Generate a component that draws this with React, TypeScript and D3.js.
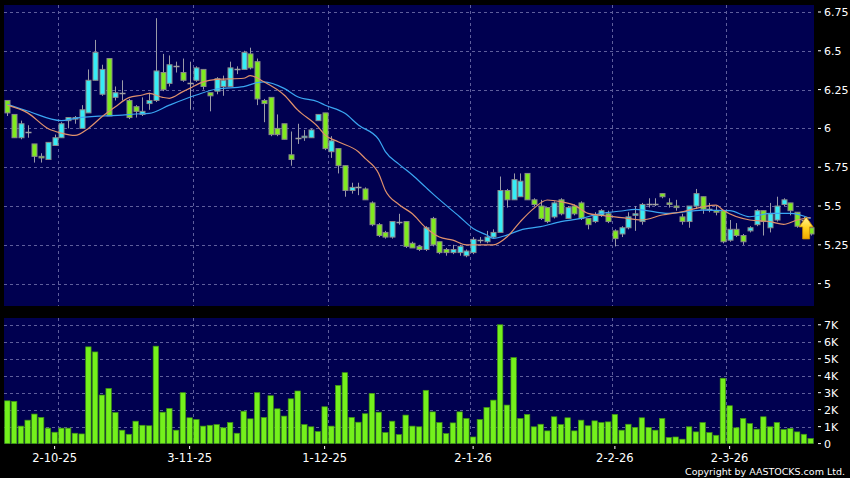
import React from 'react';
import * as d3 from 'd3';

const W = 850;
const H = 478;

// ---- Candles (index 0..119) ----
const opens = [
  6.18, 6.09, 5.94, 5.98, 5.90, 5.82, 5.80, 5.89, 5.94, 6.05,
  6.06, 6.00, 6.10, 6.31, 6.22, 6.45, 6.20, 6.23, 6.18, 6.14,
  6.09, 6.16, 6.18, 6.36, 6.29, 6.40, 6.36, 6.29, 6.31, 6.38,
  6.23, 6.24, 6.27, 6.27, 6.38, 6.38, 6.48, 6.43, 6.18, 6.20,
  6.00, 6.03, 5.83, 5.94, 5.94, 5.94, 6.05, 6.10, 5.85, 5.87,
  5.76, 5.60, 5.62, 5.61, 5.52, 5.38, 5.33, 5.30, 5.40, 5.40,
  5.26, 5.24, 5.22, 5.42, 5.27, 5.22, 5.20, 5.20, 5.18, 5.20,
  5.28, 5.27, 5.30, 5.33, 5.60, 5.54, 5.56, 5.71, 5.54, 5.50,
  5.49, 5.43, 5.54, 5.42, 5.50, 5.52, 5.42, 5.40, 5.44, 5.45,
  5.34, 5.32, 5.36, 5.44, 5.40, 5.51, 5.51, 5.58, 5.52, 5.50,
  5.43, 5.40, 5.50, 5.56, 5.48, 5.47, 5.47, 5.28, 5.35, 5.31,
  5.34, 5.38, 5.47, 5.36, 5.41, 5.51, 5.52, 5.46, 5.41, 5.36,
];
const highs = [
  6.18, 6.09, 6.05, 6.02, 5.90, 5.84, 5.91, 5.96, 6.04, 6.07,
  6.08, 6.15, 6.38, 6.57, 6.41, 6.45, 6.27, 6.31, 6.19, 6.15,
  6.20, 6.23, 6.71, 6.48, 6.47, 6.43, 6.45, 6.43, 6.40, 6.38,
  6.23, 6.33, 6.34, 6.43, 6.40, 6.50, 6.52, 6.45, 6.19, 6.20,
  6.09, 6.03, 5.98, 6.03, 5.99, 6.00, 6.09, 6.10, 5.95, 5.87,
  5.76, 5.65, 5.65, 5.62, 5.53, 5.39, 5.34, 5.40, 5.45, 5.40,
  5.27, 5.25, 5.37, 5.43, 5.27, 5.23, 5.25, 5.25, 5.22, 5.30,
  5.30, 5.34, 5.35, 5.69, 5.61, 5.71, 5.71, 5.71, 5.55, 5.54,
  5.49, 5.53, 5.55, 5.50, 5.51, 5.53, 5.42, 5.46, 5.48, 5.47,
  5.35, 5.37, 5.46, 5.50, 5.52, 5.55, 5.55, 5.58, 5.55, 5.54,
  5.45, 5.50, 5.61, 5.56, 5.52, 5.50, 5.47, 5.41, 5.39, 5.32,
  5.37, 5.48, 5.47, 5.52, 5.56, 5.55, 5.52, 5.46, 5.43, 5.36,
];
const lows = [
  6.08, 5.94, 5.93, 5.94, 5.78, 5.78, 5.80, 5.89, 5.94, 6.00,
  6.03, 6.00, 6.10, 6.31, 6.21, 6.08, 6.18, 6.18, 6.06, 6.07,
  6.08, 6.12, 6.17, 6.24, 6.27, 6.36, 6.30, 6.12, 6.30, 6.25,
  6.11, 6.22, 6.21, 6.27, 6.35, 6.38, 6.38, 6.15, 6.04, 5.95,
  5.95, 5.93, 5.76, 5.90, 5.92, 5.94, 6.05, 5.86, 5.81, 5.71,
  5.56, 5.58, 5.57, 5.54, 5.37, 5.30, 5.29, 5.29, 5.38, 5.23,
  5.23, 5.21, 5.21, 5.24, 5.19, 5.18, 5.19, 5.18, 5.17, 5.19,
  5.26, 5.26, 5.29, 5.33, 5.49, 5.54, 5.56, 5.54, 5.50, 5.41,
  5.39, 5.42, 5.44, 5.42, 5.44, 5.41, 5.35, 5.39, 5.43, 5.39,
  5.24, 5.30, 5.35, 5.34, 5.38, 5.49, 5.50, 5.55, 5.49, 5.47,
  5.38, 5.36, 5.48, 5.45, 5.46, 5.44, 5.26, 5.27, 5.30, 5.25,
  5.33, 5.37, 5.31, 5.33, 5.40, 5.50, 5.44, 5.36, 5.36, 5.31,
];
const closes = [
  6.10, 5.94, 6.03, 5.98, 5.82, 5.81, 5.91, 5.94, 6.03, 6.07,
  6.07, 6.12, 6.31, 6.49, 6.38, 6.08, 6.23, 6.23, 6.07, 6.11,
  6.11, 6.18, 6.37, 6.25, 6.41, 6.40, 6.31, 6.29, 6.39, 6.27,
  6.21, 6.32, 6.31, 6.39, 6.38, 6.49, 6.39, 6.19, 6.16, 5.96,
  5.96, 5.93, 5.80, 5.94, 5.95, 5.99, 6.09, 5.87, 5.92, 5.76,
  5.60, 5.62, 5.62, 5.54, 5.38, 5.31, 5.30, 5.40, 5.40, 5.24,
  5.23, 5.22, 5.36, 5.25, 5.20, 5.20, 5.22, 5.24, 5.21, 5.285,
  5.28, 5.30, 5.33, 5.60, 5.54, 5.67, 5.66, 5.54, 5.51, 5.42,
  5.40, 5.52, 5.45, 5.49, 5.45, 5.42, 5.38, 5.44, 5.47, 5.40,
  5.29, 5.36, 5.43, 5.45, 5.51, 5.51, 5.51, 5.56, 5.51, 5.49,
  5.40, 5.50, 5.58, 5.48, 5.48, 5.46, 5.27, 5.35, 5.31, 5.27,
  5.36, 5.47, 5.40, 5.45, 5.50, 5.54, 5.47, 5.37, 5.41, 5.32,
];

// ---- Volume (thousands of shares) ----
const volumesK = [
  2.52, 2.49, 1.03, 1.38, 1.74, 1.54, 0.91, 0.67, 0.91, 0.91,
  0.61, 0.57, 5.70, 5.40, 2.86, 3.25, 1.83, 0.79, 0.55, 1.32,
  1.08, 1.05, 5.74, 1.85, 2.07, 0.79, 3.00, 1.52, 1.42, 1.03,
  1.08, 1.12, 0.93, 1.24, 0.61, 1.91, 1.46, 3.00, 1.54, 2.82,
  2.05, 1.62, 2.64, 3.10, 1.12, 0.99, 0.71, 2.17, 1.03, 3.43,
  4.18, 1.54, 1.26, 1.76, 2.96, 1.85, 0.65, 1.32, 0.53, 1.68,
  1.03, 0.99, 3.14, 1.87, 1.24, 0.59, 1.22, 1.87, 1.48, 0.39,
  1.42, 2.13, 2.56, 7.00, 2.27, 5.07, 1.48, 1.72, 0.99, 1.14,
  0.75, 1.58, 1.12, 1.52, 0.75, 1.38, 1.05, 1.34, 1.24, 1.28,
  1.72, 0.79, 1.14, 0.95, 1.52, 0.95, 0.79, 1.48, 0.36, 0.39,
  0.26, 0.99, 0.69, 1.24, 0.65, 0.49, 3.85, 2.23, 0.93, 1.48,
  1.18, 0.85, 1.58, 0.99, 1.24, 0.83, 0.89, 0.69, 0.55, 0.30,
];

// ---- Moving averages, read at sample days ----
const maShortIdx = [0, 3, 6, 8, 10, 12, 14, 16, 18, 20, 21, 23, 24, 26, 27, 29, 31, 35, 36, 38, 41, 43, 46, 47, 49, 52, 53, 55, 56, 58, 60, 62, 64, 66, 68, 72, 74, 76, 78, 80, 82, 84, 86, 88, 91, 94, 97, 100, 103, 105, 106, 110, 113, 115, 117, 119];
const maShortVal = [6.15, 6.10, 6.00, 5.97, 5.955, 6.00, 6.075, 6.14, 6.198, 6.215, 6.226, 6.20, 6.194, 6.237, 6.258, 6.30, 6.316, 6.323, 6.34, 6.30, 6.215, 6.119, 6.011, 5.96, 5.914, 5.85, 5.807, 5.71, 5.60, 5.51, 5.45, 5.36, 5.30, 5.28, 5.25, 5.25, 5.30, 5.40, 5.485, 5.539, 5.528, 5.506, 5.453, 5.44, 5.425, 5.41, 5.442, 5.463, 5.495, 5.506, 5.474, 5.41, 5.399, 5.382, 5.41, 5.426];
const maLongIdx = [0, 3, 8, 10, 14, 17, 19, 21, 24, 28, 31, 35, 37, 38, 41, 43, 46, 47, 50, 52, 55, 56, 58, 60, 62, 63, 67, 69, 71, 72, 74, 76, 79, 82, 85, 88, 91, 93, 98, 103, 107, 110, 113, 116, 119];
const maLongVal = [6.155, 6.112, 6.05, 6.065, 6.08, 6.086, 6.093, 6.097, 6.15, 6.215, 6.254, 6.269, 6.295, 6.30, 6.258, 6.204, 6.172, 6.151, 6.097, 6.022, 5.93, 5.85, 5.77, 5.70, 5.62, 5.58, 5.431, 5.356, 5.313, 5.292, 5.313, 5.345, 5.367, 5.399, 5.42, 5.453, 5.468, 5.479, 5.453, 5.474, 5.47, 5.431, 5.453, 5.453, 5.42];

// ---- Axes ----
const dateLabels = ['2-10-25', '3-11-25', '1-12-25', '2-1-26', '2-2-26', '2-3-26'];
const dateLabelIdx = [7, 27, 47, 69, 90, 107];
const dateGridIdx = [8, 28, 48, 69, 90, 107];
const priceTicks = [5, 5.25, 5.5, 5.75, 6, 6.25, 6.5, 6.75];
const volTicks = [0, 1, 2, 3, 4, 5, 6, 7];
const lastArrowPrice = 5.43;

const N = closes.length;

const C_UP = '#36ecf6';
const C_DOWN = '#7fea1e';
const C_EDGE = '#8a8a8a';
const BG = '#000050';
const GRID = '#5e5e9c';

export default function App() {
  const plotL = 4, plotR = 814;
  const mainTop = 5, mainBot = 306;
  const volTop = 318, volBot = 444;

  const x = d3.scaleBand<number>().domain(d3.range(N)).range([plotL, plotR]).paddingInner(0).paddingOuter(0);
  const step = x.step();
  const cx = (i: number) => (x(i) as number) + step / 2;

  const y = d3.scaleLinear().domain([4.856, 6.795]).range([mainBot, mainTop]);
  const yv = d3.scaleLinear().domain([0, 7.4]).range([443.6, volTop]);

  const lineShort = d3.line<number>().x((_, k) => cx(maShortIdx[k])).y((v) => y(v)).curve(d3.curveMonotoneX);
  const lineLong = d3.line<number>().x((_, k) => cx(maLongIdx[k])).y((v) => y(v)).curve(d3.curveMonotoneX);

  const font = 'DejaVu Sans, Verdana, sans-serif';

  const ax = (x(N - 1) as number) + step / 2 - 4.5;
  const ay = y(lastArrowPrice);
  const arrowPath = `M${ax},${ay} L${ax + 7},${ay + 10} L${ax + 3.5},${ay + 10} L${ax + 3.5},${ay + 22} L${ax - 3.5},${ay + 22} L${ax - 3.5},${ay + 10} L${ax - 7},${ay + 10} Z`;

  return (
    <svg width={W} height={H} style={{ position: 'absolute', left: 0, top: 0, display: 'block' }} fontFamily={font}>
      <defs>
        <linearGradient id="arrowGrad" x1="0" y1="0" x2="0" y2="1">
          <stop offset="0" stopColor="#fff59a" />
          <stop offset="0.5" stopColor="#ffd21f" />
          <stop offset="1" stopColor="#f0a800" />
        </linearGradient>
      </defs>
      <rect x={0} y={0} width={W} height={H} fill="#000" />
      {/* Main panel */}
      <rect x={plotL} y={mainTop} width={plotR - plotL} height={mainBot - mainTop} fill={BG} />
      {priceTicks.map((p) => (
        <line key={'pg' + p} x1={plotL} x2={plotR} y1={Math.round(y(p)) + 0.5} y2={Math.round(y(p)) + 0.5} stroke={GRID} strokeDasharray="3,3" strokeWidth={1} />
      ))}
      {dateGridIdx.map((i) => (
        <line key={'vg' + i} x1={Math.round(x(i) as number) + 0.5} x2={Math.round(x(i) as number) + 0.5} y1={mainTop} y2={mainBot} stroke={GRID} strokeDasharray="3,3" strokeWidth={1} />
      ))}
      {/* Candles */}
      {closes.map((c, i) => {
        const o = opens[i];
        const xc = Math.round(cx(i)) + 0.5;
        const yO = y(o), yC = y(c);
        const top = Math.min(yO, yC), bot = Math.max(yO, yC);
        const isDoji = bot - top < 1.2;
        const fill = c > o ? C_UP : C_DOWN;
        return (
          <g key={'c' + i}>
            <line x1={xc} x2={xc} y1={y(highs[i])} y2={y(lows[i])} stroke="#9a9aa8" strokeWidth={1} />
            {isDoji ? (
              <line x1={xc - 3} x2={xc + 3} y1={Math.round((yO + yC) / 2) + 0.5} y2={Math.round((yO + yC) / 2) + 0.5} stroke="#a0a0a0" strokeWidth={1.5} />
            ) : (
              <rect x={xc - 2.5} y={top} width={5} height={bot - top} fill={fill} stroke={C_EDGE} strokeWidth={1} />
            )}
          </g>
        );
      })}
      <path d={lineLong(maLongVal) || ''} fill="none" stroke="#3aa6f2" strokeWidth={1.2} />
      <path d={lineShort(maShortVal) || ''} fill="none" stroke="#e0916c" strokeWidth={1.2} />
      <path d={arrowPath} fill="url(#arrowGrad)" stroke="#c98a00" strokeWidth={0.8} />
      {/* Price axis */}
      {priceTicks.map((p) => (
        <g key={'pt' + p}>
          <line x1={818} x2={821} y1={y(p)} y2={y(p)} stroke="#fff" strokeWidth={1} />
          <text x={824} y={y(p)} dy="0.36em" fill="#fff" fontSize={11}>{String(p)}</text>
        </g>
      ))}

      {/* Volume panel */}
      <rect x={plotL} y={volTop} width={plotR - plotL} height={volBot - volTop} fill={BG} />
      {volTicks.slice(1).map((v) => (
        <line key={'vgl' + v} x1={plotL} x2={plotR} y1={Math.round(yv(v)) + 0.5} y2={Math.round(yv(v)) + 0.5} stroke={GRID} strokeDasharray="3,3" strokeWidth={1} />
      ))}
      {dateGridIdx.map((i) => (
        <line key={'vvg' + i} x1={Math.round(x(i) as number) + 0.5} x2={Math.round(x(i) as number) + 0.5} y1={volTop} y2={volBot} stroke={GRID} strokeDasharray="3,3" strokeWidth={1} />
      ))}
      {volumesK.map((v, i) => (
        <rect key={'v' + i} x={cx(i) - 2.7} y={yv(v)} width={5.4} height={yv(0) - yv(v)} fill="#74f01c" stroke="#3f9412" strokeWidth={0.7} />
      ))}
      {volTicks.map((v) => (
        <g key={'vt' + v}>
          <line x1={818} x2={821} y1={yv(v)} y2={yv(v)} stroke="#fff" strokeWidth={1} />
          <text x={824} y={yv(v)} dy="0.36em" fill="#fff" fontSize={11}>{v === 0 ? '0' : v + 'K'}</text>
        </g>
      ))}
      {/* Date axis */}
      {dateLabelIdx.map((i, k) => (
        <g key={'d' + i}>
          <line x1={cx(i)} x2={cx(i)} y1={446} y2={449} stroke="#fff" strokeWidth={1} />
          <text x={cx(i)} y={462} textAnchor="middle" fill="#fff" fontSize={11.5}>{dateLabels[k]}</text>
        </g>
      ))}
      <text x={845} y={475} textAnchor="end" fill="#fff" fontSize={9.5}>Copyright by AASTOCKS.com Ltd.</text>
    </svg>
  );
}
